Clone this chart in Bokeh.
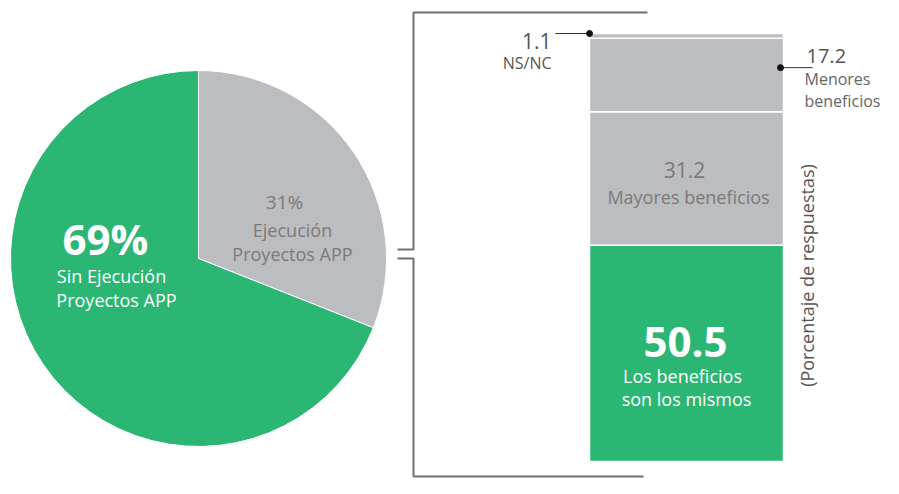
import numpy as np
from bokeh.plotting import figure
from bokeh.models import Range1d
from bokeh.core.properties import value
from bokeh.embed import file_html
from bokeh.resources import INLINE

# ---- data ----
pie_labels = ["Ejecución Proyectos APP", "Sin Ejecución Proyectos APP"]
pie_values = [31, 69]
pie_colors = ["#bcbdc0", "#2cb673"]

bar_labels = ["Los beneficios son los mismos", "Mayores beneficios", "Menores beneficios", "NS/NC"]
bar_values = [50.5, 31.2, 17.2, 1.1]
bar_colors = ["#2cb673", "#bcbdc0", "#bcbdc0", "#bcbdc0"]

FONT = value("Open Sans")
H = 494


def Y(yref):
    return H - yref


p = figure(width=883, height=478, x_range=Range1d(0, 883), y_range=Range1d(16, 494),
           output_backend="svg", toolbar_location=None, min_border=0,
           x_axis_location=None, y_axis_location=None)
p.grid.visible = False
p.outline_line_color = None
p.background_fill_color = "white"

# ---- pie ----
cx, cy, r = 198, Y(258), 188
start = np.pi / 2
ends = []
for v in pie_values:
    ang = v / sum(pie_values) * 2 * np.pi
    ends.append((start - ang, start))
    start -= ang
for (a0, a1), col in zip(ends, pie_colors):
    p.wedge(x=[cx], y=[cy], radius=r, start_angle=a0, end_angle=a1,
            fill_color=col, line_color="white", line_width=1)

# pie labels
p.text(x=[105], y=[Y(238)], text=[f"{pie_values[1]}%"], text_font=FONT, text_font_style="bold",
       text_font_size="42px", text_color="white", text_align="center", text_baseline="middle")
p.text(x=[111, 116], y=[Y(275), Y(299)], text=["Sin Ejecución", "Proyectos APP"], text_font=FONT,
       text_font_size="18px", text_color="white", text_align="center", text_baseline="middle")
p.text(x=[284], y=[Y(201)], text=[f"{pie_values[0]}%"], text_font=FONT,
       text_font_size="19px", text_color="#7a7a7a", text_align="center", text_baseline="middle")
p.text(x=[292, 292], y=[Y(229), Y(253)], text=["Ejecución", "Proyectos APP"], text_font=FONT,
       text_font_size="18px", text_color="#7a7a7a", text_align="center", text_baseline="middle")

# ---- bracket ----
lc = "#707070"
p.line(x=[647, 413, 413, 397], y=[Y(12), Y(12), Y(249), Y(249)], line_color=lc, line_width=2)
p.line(x=[397, 413, 413, 643], y=[Y(258), Y(258), Y(476), Y(476)], line_color=lc, line_width=2)

# ---- stacked bar in percent scale ----
px_per = 428 / 100.0
bar_bottom_px = Y(461)
p.extra_y_ranges = {"pct": Range1d((16 - bar_bottom_px) / px_per, (494 - bar_bottom_px) / px_per)}
bottoms = np.concatenate([[0], np.cumsum(bar_values)[:-1]])
tops = np.cumsum(bar_values)
p.vbar(x=[686] * len(bar_values), width=194, bottom=bottoms, top=tops,
       fill_color=bar_colors, line_color="white", line_width=1.5, y_range_name="pct")

# callouts
p.line(x=[555, 589], y=[tops[-1], tops[-1]], line_color="#333333", line_width=1, y_range_name="pct")
p.scatter(x=[589], y=[tops[-1]], size=6, color="#111111", y_range_name="pct")
mid3 = bottoms[2] + bar_values[2] * 0.6
p.line(x=[780, 812], y=[mid3, mid3], line_color="#333333", line_width=1, y_range_name="pct")
p.scatter(x=[780], y=[mid3], size=6, color="#111111", y_range_name="pct")

# bar labels
p.text(x=[551], y=[Y(40)], text=[f"{bar_values[3]}"], text_font=FONT, text_font_size="21px",
       text_color="#555555", text_align="right", text_baseline="middle")
p.text(x=[551], y=[Y(62)], text=["NS/NC"], text_font=FONT, text_font_size="16px",
       text_color="#555555", text_align="right", text_baseline="middle")
p.text(x=[806], y=[Y(55)], text=[f"{bar_values[2]}"], text_font=FONT, text_font_size="20px",
       text_color="#555555", text_align="left", text_baseline="middle")
p.text(x=[804, 804], y=[Y(78), Y(100)], text=["Menores", "beneficios"], text_font=FONT,
       text_font_size="16px", text_color="#666666", text_align="left", text_baseline="middle")
p.text(x=[684], y=[Y(169)], text=[f"{bar_values[1]}"], text_font=FONT, text_font_size="21px",
       text_color="#7a7a7a", text_align="center", text_baseline="middle")
p.text(x=[688], y=[Y(196)], text=["Mayores beneficios"], text_font=FONT, text_font_size="18px",
       text_color="#7a7a7a", text_align="center", text_baseline="middle")
p.text(x=[685], y=[Y(341)], text=[f"{bar_values[0]}"], text_font=FONT, text_font_style="bold",
       text_font_size="42px", text_color="white", text_align="center", text_baseline="middle")
p.text(x=[682, 686], y=[Y(375), Y(398)], text=["Los beneficios", "son los mismos"], text_font=FONT,
       text_font_size="18px", text_color="white", text_align="center", text_baseline="middle")
p.text(x=[806], y=[Y(275)], text=["(Porcentaje de respuestas)"], angle=np.pi / 2, text_font=FONT,
       text_font_size="18px", text_color="#555555", text_align="center", text_baseline="middle")

open("out.html", "w").write(file_html(p, INLINE))
